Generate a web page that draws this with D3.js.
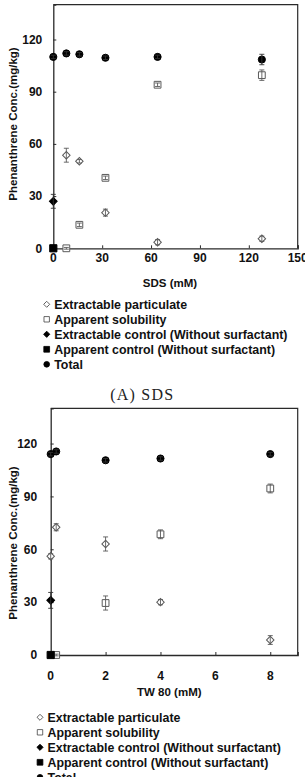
<!DOCTYPE html>
<html>
<head>
<meta charset="utf-8">
<script src="https://cdn.jsdelivr.net/npm/d3@7"></script>
<style>
  body { margin: 0; background: #fff; }
  svg { display: block; }
</style>
</head>
<body>
<div id="chart"></div>
<script>
// ---- data ----
var legendLabels = ['Extractable particulate', 'Apparent solubility',
    'Extractable control (Without surfactant)', 'Apparent control (Without surfactant)', 'Total'];

var yTicks = [0, 30, 60, 90, 120];

// (A) SDS
var sdsTicks = [0, 30, 60, 90, 120, 150];
var sdsPartX = [8, 16, 32, 64, 128];
var sdsPartY = [53.5, 50, 20.5, 3.5, 5.5];
var sdsPartErr = [4, 1, 2, 1.5, 1.5];
var sdsSolX = [8, 16, 32, 64, 128];
var sdsSolY = [0, 13.5, 40.5, 94, 99.5];
var sdsSolErr = [0.5, 1, 1, 1, 3];
var sdsExtCtrlX = [0];
var sdsExtCtrlY = [27];
var sdsExtCtrlErr = [4];
var sdsAppCtrlX = [0];
var sdsAppCtrlY = [0];
var sdsTotalX = [0, 8, 16, 32, 64, 128];
var sdsTotalY = [110, 112, 111.5, 109.5, 110, 108.5];
var sdsTotalErr = [1, 1, 1, 1, 1, 3];

// (B) TW 80
var twTicks = [0, 2, 4, 6, 8];
var twPartX = [0, 0.2, 2, 4, 8];
var twPartY = [56, 72.5, 63, 30, 8.5];
var twPartErr = [1.5, 2, 4, 1.5, 2.5];
var twSolX = [0.2, 2, 4, 8];
var twSolY = [0, 29.5, 68.5, 94.5];
var twSolErr = [0.5, 4, 2.5, 2.5];
var twExtCtrlX = [0];
var twExtCtrlY = [31];
var twExtCtrlErr = [4.5];
var twAppCtrlX = [0];
var twAppCtrlY = [0];
var twTotalX = [0, 0.2, 2, 4, 8];
var twTotalY = [114, 115.5, 110.5, 111.5, 114];
var twTotalErr = [1, 1, 1, 1, 1];

function zip(xs, ys, es) {
    return xs.map(function(x, i) { return { x: x, y: ys[i], e: es ? es[i] : 0 }; });
}

var W = 305, H = 777;
var FONT = '"Liberation Sans", Arial, sans-serif';
var GREY = '#5a5a5a';
var AXIS = '#2a2a2a';

var svg = d3.select('#chart').append('svg')
    .attr('width', W)
    .attr('height', H)
    .style('font-family', FONT);

// marker shapes
var sym = {
    part: { path: d3.symbol().type(d3.symbolSquare).size(28)(), rot: 45, fill: '#fff', stroke: GREY },
    sol: { path: d3.symbol().type(d3.symbolSquare).size(46)(), rot: 0, fill: '#fff', stroke: GREY },
    ext: { path: d3.symbol().type(d3.symbolSquare).size(30)(), rot: 45, fill: '#000', stroke: '#000' },
    app: { path: d3.symbol().type(d3.symbolSquare).size(52)(), rot: 0, fill: '#000', stroke: '#000' },
    tot: { path: d3.symbol().type(d3.symbolCircle).size(40)(), rot: 0, fill: '#000', stroke: '#000' }
};

function drawPanel(p) {
    var x = d3.scaleLinear().domain(p.xDomain).range([p.left, p.right]);
    var y = d3.scaleLinear().domain([0, 140]).range([p.bottom, p.top]);
    var g = svg.append('g');

    // frame (top + right)
    g.append('path')
        .attr('d', 'M' + p.left + ',' + p.top + 'H' + p.right + 'V' + p.bottom)
        .attr('fill', 'none')
        .attr('stroke', AXIS)
        .attr('stroke-width', 1.2);

    // axes with inward ticks
    var xAxis = g.append('g')
        .attr('transform', 'translate(0,' + p.bottom + ')')
        .call(d3.axisTop(x).tickValues(p.xTicks).tickSize(3).tickFormat(d3.format('d')));
    xAxis.selectAll('text').remove();
    var yAxis = g.append('g')
        .attr('transform', 'translate(' + p.left + ',0)')
        .call(d3.axisRight(y).tickValues(yTicks).tickSize(3));
    yAxis.selectAll('text').remove();
    g.selectAll('.domain').attr('stroke', AXIS).attr('stroke-width', 1.3);
    g.selectAll('.tick line').attr('stroke', AXIS).attr('stroke-width', 1);

    g.selectAll('.xlab')
        .data(p.xTicks)
        .enter()
        .append('text')
        .attr('x', function(d) { return x(d); })
        .attr('y', p.bottom + p.xLabGap)
        .attr('text-anchor', 'middle')
        .attr('font-size', '12px')
        .attr('font-weight', 'bold')
        .attr('fill', '#111')
        .text(function(d) { return d; });

    g.selectAll('.ylab')
        .data(yTicks)
        .enter()
        .append('text')
        .attr('x', p.left - p.yLabGap)
        .attr('y', function(d) { return y(d) + 4.3; })
        .attr('text-anchor', 'end')
        .attr('font-size', '12px')
        .attr('font-weight', 'bold')
        .attr('fill', '#111')
        .text(function(d) { return d; });

    g.append('text')
        .attr('transform', 'translate(' + p.yTitleX + ',' + p.yTitleY + ') rotate(-90)')
        .attr('text-anchor', 'middle')
        .attr('font-size', '11.5px')
        .attr('font-weight', 'bold')
        .attr('fill', '#111')
        .text('Phenanthrene Conc.(mg/kg)');

    g.append('text')
        .attr('x', p.xTitleX)
        .attr('y', p.xTitleY)
        .attr('text-anchor', 'middle')
        .attr('font-size', '11.5px')
        .attr('font-weight', 'bold')
        .attr('fill', '#111')
        .text(p.xTitle);

    // series
    p.series.forEach(function(s) {
        var st = sym[s.kind];
        var pts = g.append('g');
        pts.selectAll('path')
            .data(s.data)
            .enter()
            .append('path')
            .attr('d', st.path)
            .attr('transform', function(d) {
                return 'translate(' + x(d.x) + ',' + y(d.y) + ') rotate(' + st.rot + ')';
            })
            .attr('fill', st.fill)
            .attr('stroke', st.stroke)
            .attr('stroke-width', 1);

        var eb = pts.selectAll('.err')
            .data(s.data.filter(function(d) { return d.e > 0; }))
            .enter()
            .append('path')
            .attr('d', function(d) {
                var cx = x(d.x), y0 = y(d.y - d.e), y1 = y(d.y + d.e);
                return 'M' + cx + ',' + y0 + 'V' + y1 +
                    'M' + (cx - 2.5) + ',' + y0 + 'H' + (cx + 2.5) +
                    'M' + (cx - 2.5) + ',' + y1 + 'H' + (cx + 2.5);
            })
            .attr('fill', 'none')
            .attr('stroke', s.kind === 'part' || s.kind === 'sol' ? GREY : '#333')
            .attr('stroke-width', 0.9);
    });

    // legend
    var lg = g.append('g');
    legendLabels.forEach(function(label, i) {
        var kinds = ['part', 'sol', 'ext', 'app', 'tot'];
        var st = sym[kinds[i]];
        var cy = p.legY + i * 15;
        lg.append('path')
            .attr('d', st.path)
            .attr('transform', 'translate(' + p.legX + ',' + cy + ') rotate(' + st.rot + ') scale(0.8)')
            .attr('fill', st.fill)
            .attr('stroke', st.stroke === GREY ? '#444' : st.stroke)
            .attr('stroke-width', 1);
        lg.append('text')
            .attr('x', p.legX + 7.5)
            .attr('y', cy + 4.3)
            .attr('font-size', '12.4px')
            .attr('font-weight', 'bold')
            .attr('fill', '#111')
            .text(label);
    });
}

drawPanel({
    xDomain: [0, 150], xTicks: sdsTicks,
    left: 53.3, right: 297.7, top: 4.7, bottom: 248.3,
    xLabGap: 14, yLabGap: 11,
    yTitleX: 17, yTitleY: 124,
    xTitle: 'SDS (mM)', xTitleX: 170, xTitleY: 286.5,
    legX: 46.7, legY: 304.3,
    series: [
        { kind: 'part', data: zip(sdsPartX, sdsPartY, sdsPartErr) },
        { kind: 'sol', data: zip(sdsSolX, sdsSolY, sdsSolErr) },
        { kind: 'ext', data: zip(sdsExtCtrlX, sdsExtCtrlY, sdsExtCtrlErr) },
        { kind: 'app', data: zip(sdsAppCtrlX, sdsAppCtrlY) },
        { kind: 'tot', data: zip(sdsTotalX, sdsTotalY, sdsTotalErr) }
    ]
});

svg.append('text')
    .attr('x', 141.7)
    .attr('y', 399.5)
    .attr('text-anchor', 'middle')
    .attr('font-family', '"Liberation Serif", "DejaVu Serif", serif')
    .attr('font-size', '16px')
    .attr('fill', '#222')
    .attr('textLength', 63)
    .text('(A) SDS');

drawPanel({
    xDomain: [0, 9], xTicks: twTicks,
    left: 50.7, right: 297.7, top: 408.3, bottom: 655,
    xLabGap: 24.5, yLabGap: 13.5,
    yTitleX: 17, yTitleY: 543,
    xTitle: 'TW 80 (mM)', xTitleX: 169.3, xTitleY: 696,
    legX: 40, legY: 717.3,
    series: [
        { kind: 'part', data: zip(twPartX, twPartY, twPartErr) },
        { kind: 'sol', data: zip(twSolX, twSolY, twSolErr) },
        { kind: 'ext', data: zip(twExtCtrlX, twExtCtrlY, twExtCtrlErr) },
        { kind: 'app', data: zip(twAppCtrlX, twAppCtrlY) },
        { kind: 'tot', data: zip(twTotalX, twTotalY, twTotalErr) }
    ]
});
</script>
</body>
</html>
